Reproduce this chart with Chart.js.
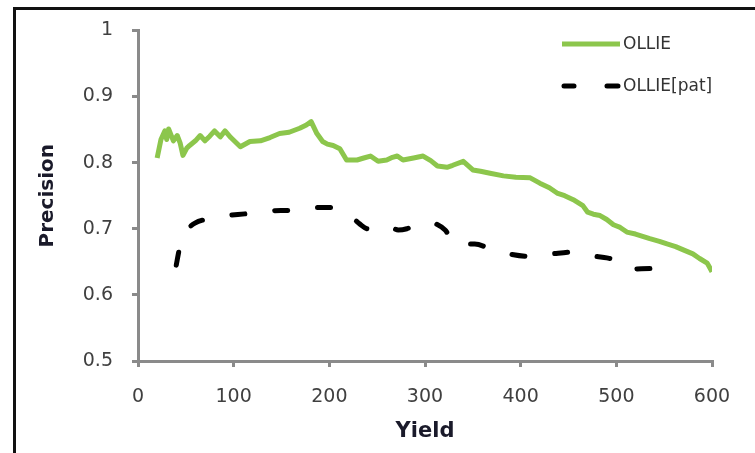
<!DOCTYPE html>
<html>
<head>
<meta charset="utf-8">
<script src="https://cdn.jsdelivr.net/npm/chart.js@4.4.1/dist/chart.umd.min.js"></script>
<style>
  html, body { margin: 0; padding: 0; background: #fff; overflow: hidden; }
  #c { display: block; }
</style>
</head>
<body>
<canvas id="c" width="755" height="453"></canvas>
<script>
// ---- data ----
const seriesNames = ['OLLIE', 'OLLIE[pat]'];

const ollieX = [20, 24, 28, 30, 32, 35, 37, 41, 44, 47, 51, 54, 60, 65, 70, 75, 80, 86, 91, 97,
  107, 117, 128, 138, 148, 158, 169, 176, 181, 187, 193, 198, 204, 211, 218, 229, 236, 243, 251, 260,
  266, 271, 277, 288, 298, 306, 313, 323, 329, 340, 350, 358, 368, 382, 395, 410, 420, 430, 438, 446,
  455, 465, 470, 476, 483, 490, 497, 504, 511, 520, 535, 545, 553, 562, 570, 580, 587, 595, 600];
const ollieY = [0.807, 0.835, 0.848, 0.835, 0.851, 0.840, 0.833, 0.841, 0.830, 0.811, 0.822, 0.826, 0.833, 0.841, 0.833, 0.840, 0.848, 0.839, 0.848, 0.838,
  0.824, 0.832, 0.833, 0.838, 0.844, 0.846, 0.852, 0.857, 0.862, 0.844, 0.832, 0.828, 0.826, 0.821, 0.804, 0.804, 0.807, 0.810, 0.802, 0.804,
  0.808, 0.810, 0.804, 0.807, 0.810, 0.803, 0.795, 0.793, 0.796, 0.802, 0.789, 0.787, 0.784, 0.780, 0.778, 0.777, 0.769, 0.762, 0.754, 0.750,
  0.744, 0.735, 0.725, 0.722, 0.720, 0.714, 0.706, 0.702, 0.695, 0.692, 0.685, 0.681, 0.677, 0.673, 0.668, 0.662, 0.655, 0.648, 0.635];

const patX = [40, 43, 47, 52, 60, 70, 82, 93, 115, 138, 161, 183, 206, 215, 224, 232, 240, 250, 261, 272,
  281, 292, 303, 312, 321, 333, 345, 352, 371, 391, 410, 433, 455, 465, 476, 490, 498, 514, 538, 556];
const patY = [0.645, 0.668, 0.690, 0.700, 0.709, 0.714, 0.718, 0.720, 0.723, 0.727, 0.728, 0.732, 0.732, 0.726, 0.717, 0.707, 0.700, 0.703, 0.705, 0.698,
  0.700, 0.707, 0.710, 0.707, 0.698, 0.676, 0.677, 0.677, 0.668, 0.661, 0.658, 0.662, 0.665, 0.664, 0.659, 0.656, 0.653, 0.639, 0.640, 0.625];

const xTicks = [0, 100, 200, 300, 400, 500, 600];
const yTicks = [0.5, 0.6, 0.7, 0.8, 0.9, 1];
const yTickLabels = ['0.5', '0.6', '0.7', '0.8', '0.9', '1'];
const xTitle = 'Yield';
const yTitle = 'Precision';

// ---- styling ----
const GREEN = '#8cc64c';
const AXIS = '#8a8a8a';
const TICKTXT = '#404040';
const FONT = '"DejaVu Sans", Verdana, sans-serif';

const toPts = (xs, ys) => xs.map((x, i) => ({ x: x, y: ys[i] }));

const framePlugin = {
  id: 'frame',
  beforeDraw(chart) {
    const ctx = chart.ctx;
    ctx.save();
    ctx.fillStyle = '#fff';
    ctx.fillRect(0, 0, chart.width, chart.height);
    ctx.restore();
  },
  afterDraw(chart) {
    const ctx = chart.ctx;
    ctx.save();
    ctx.setLineDash([]);
    ctx.fillStyle = '#111111';
    ctx.fillRect(13, 7, 3, 446);
    ctx.fillRect(13, 7, 742, 3);
    ctx.restore();
  }
};

const legendPlugin = {
  id: 'insideLegend',
  afterDraw(chart) {
    const ctx = chart.ctx;
    const ds = chart.data.datasets;
    const x0 = 562, x1 = 620, tx = 623;
    const rows = [44, 86];
    ctx.save();
    ds.forEach((d, i) => {
      const y = rows[i];
      ctx.setLineDash([]);
      ctx.strokeStyle = d.borderColor;
      ctx.lineWidth = d.borderWidth;
      ctx.lineCap = i === 0 ? 'butt' : 'round';
      ctx.beginPath();
      if (i === 0) {
        ctx.moveTo(x0, y); ctx.lineTo(x1, y);
      } else {
        ctx.moveTo(x0 + 2, y); ctx.lineTo(x0 + 12, y);
        ctx.moveTo(x1 - 13, y); ctx.lineTo(x1 - 2, y);
      }
      ctx.stroke();
      ctx.fillStyle = '#333';
      ctx.font = '17px ' + FONT;
      ctx.textBaseline = 'middle';
      ctx.textAlign = 'left';
      ctx.fillText(d.label, tx, y + 1);
    });
    ctx.restore();
  }
};

new Chart(document.getElementById('c'), {
  type: 'line',
  data: {
    datasets: [
      {
        label: seriesNames[0],
        data: toPts(ollieX, ollieY),
        borderColor: GREEN,
        borderWidth: 5,
        pointRadius: 0,
        tension: 0,
        borderJoinStyle: 'round',
        fill: false
      },
      {
        label: seriesNames[1],
        data: toPts(patX, patY),
        borderColor: '#000',
        borderWidth: 5,
        borderDash: [13, 30],
        borderCapStyle: 'round',
        pointRadius: 0,
        tension: 0.35,
        cubicInterpolationMode: 'monotone',
        fill: false
      }
    ]
  },
  options: {
    responsive: false,
    animation: false,
    layout: { padding: { left: 0, top: 25, right: 43, bottom: 0 } },
    plugins: { legend: { display: false }, tooltip: { enabled: false } },
    scales: {
      x: {
        type: 'linear',
        min: 0, max: 600,
        afterFit(s) { s.height = 92; },
        afterBuildTicks(s) { s.ticks = xTicks.map(v => ({ value: v })); },
        grid: { drawOnChartArea: false, drawTicks: true, tickLength: 6, color: AXIS, lineWidth: 3 },
        border: { display: true, color: AXIS, width: 3 },
        ticks: { color: TICKTXT, font: { family: FONT, size: 19 }, padding: 19, maxRotation: 0 },
        title: { display: true, text: xTitle, color: '#1a1a2a',
                 font: { family: FONT, size: 21, weight: 'bold' }, padding: { top: 0, bottom: 9 } }
      },
      y: {
        type: 'linear',
        min: 0.5, max: 1,
        afterFit(s) { s.width = 138; },
        afterBuildTicks(s) { s.ticks = yTicks.map(v => ({ value: v })); },
        grid: { drawOnChartArea: false, drawTicks: true, tickLength: 6, color: AXIS, lineWidth: 3 },
        border: { display: true, color: AXIS, width: 3 },
        ticks: {
          color: TICKTXT, font: { family: FONT, size: 19 }, padding: 19,
          callback: (v) => { const i = yTicks.findIndex(t => Math.abs(t - v) < 1e-9); return i >= 0 ? yTickLabels[i] : ''; }
        },
        title: { display: true, text: yTitle, color: '#1a1a2a',
                 font: { family: FONT, size: 20, weight: 'bold' }, padding: { top: 36, bottom: 0 } }
      }
    }
  },
  plugins: [framePlugin, legendPlugin]
});
</script>
</body>
</html>
